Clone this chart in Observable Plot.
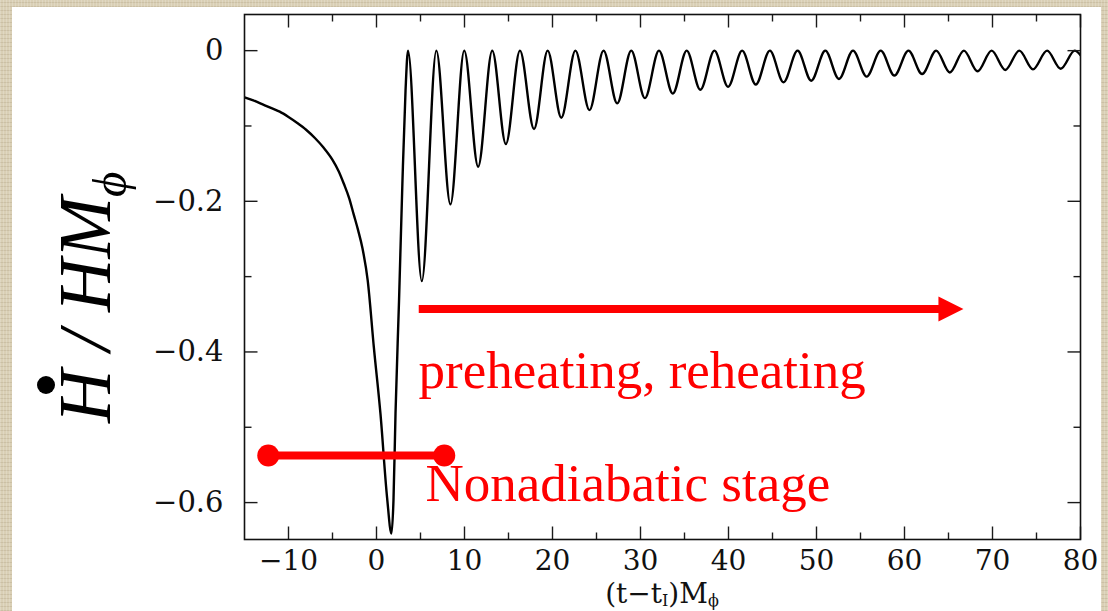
<!DOCTYPE html>
<html><head><meta charset="utf-8">
<script src="https://cdn.jsdelivr.net/npm/d3@7"></script>
<script src="https://cdn.jsdelivr.net/npm/@observablehq/plot@0.6"></script>
<style>
html,body{margin:0;padding:0;width:1108px;height:611px;overflow:hidden;}
body{position:relative;background-color:#d9cfb5;
background-image:repeating-linear-gradient(90deg,rgba(255,255,255,0.18) 0 1px,transparent 1px 3px),
repeating-linear-gradient(0deg,rgba(110,90,50,0.13) 0 1px,transparent 1px 4px);}
#panel{position:absolute;left:12px;top:7px;width:1089px;height:604px;background:#fff;}
#chart{position:absolute;left:0;top:0;}
</style></head><body><div id="panel"></div><div id="chart"></div>
<script>
// ---- data ----
const preT = [-15, -14, -13, -12, -11, -10, -9, -8, -7, -6, -5, -4.3, -3.7, -3.1, -2.6, -2.1, -1.6, -1.0, -0.3, 0.45, 1.2, 1.7, 1.93, 2.16, 2.56, 2.95, 3.3];
const preV = [-0.062, -0.066, -0.071, -0.076, -0.081, -0.088, -0.096, -0.105, -0.116, -0.129, -0.145, -0.160, -0.177, -0.196, -0.217, -0.238, -0.262, -0.305, -0.394, -0.482, -0.593, -0.641, -0.597, -0.482, -0.332, -0.173, -0.053];
const peakT = [3.58, 6.8, 9.97, 13.15, 16.3, 19.45, 22.6, 25.8, 28.95, 32.1, 35.25, 38.4, 41.55, 44.7, 47.85, 51.0, 54.15, 57.3, 60.45, 63.6, 66.75, 69.9, 73.05, 76.2, 79.35];
const peakV = [0, 0, 0, 0, 0, 0, 0, 0, 0, 0, 0, 0, 0, 0, 0, 0, 0, 0, 0, 0, 0, 0, 0, 0, 0];
const troughT = [5.15, 8.4, 11.55, 14.7, 17.9, 21.0, 24.2, 27.35, 30.5, 33.67, 36.8, 39.95, 43.1, 46.25, 49.4, 52.55, 55.7, 58.85, 62.0, 65.15, 68.3, 71.45, 74.6, 77.75];
const troughV = [-0.306, -0.204, -0.154, -0.124, -0.104, -0.089, -0.079, -0.070, -0.063, -0.057, -0.052, -0.048, -0.045, -0.042, -0.040, -0.0376, -0.0345, -0.033, -0.031, -0.029, -0.0274, -0.0256, -0.0248, -0.0240];
const endT = [80];
const endV = [-0.006];

const xMajor = [-10, 0, 10, 20, 30, 40, 50, 60, 70, 80];
const xTickLabels = ["−10", "0", "10", "20", "30", "40", "50", "60", "70", "80"];
const xMinor = [-5, 5, 15, 25, 35, 45, 55, 65, 75];
const yMajor = [0, -0.2, -0.4, -0.6];
const yTickLabels = ["0", "−0.2", "−0.4", "−0.6"];
const yMinor = [-0.1, -0.3, -0.5];

const nonadX = [-12.3, 7.7];
const nonadY = [-0.5375, -0.5375];
const arrowX = [4.8, 65.5];        // shaft
const arrowY = [-0.343, -0.343];
const arrowTip = [{t: 66.7, v: -0.343}];
const labels = [
  {t: 4.77, v: -0.4473, text: "preheating, reheating"},
  {t: 5.57, v: -0.598, text: "Nonadiabatic stage"}
];

// ---- build rows ----
const curve = preT.map((t, i) => ({t, v: preV[i]}));
peakT.forEach((t, i) => {
  curve.push({t, v: peakV[i]});
  if (i < troughT.length) curve.push({t: troughT[i], v: troughV[i]});
});
endT.forEach((t, i) => curve.push({t, v: endV[i]}));

const tickShape = {draw(ctx, l) { ctx.moveTo(0, 0); ctx.lineTo(0, -l); }};
const triShape = {draw(ctx, l) { ctx.moveTo(-12.5, 0); ctx.lineTo(0, -l); ctx.lineTo(12.5, 0); ctx.closePath(); }};
const tk = {shape: tickShape, anchor: "start", stroke: "#1a1a1a", strokeWidth: 1.4, strokeLinecap: "butt"};

const svg = Plot.plot({
  width: 1108, height: 611,
  marginLeft: 244, marginRight: 28, marginTop: 14, marginBottom: 72,
  style: {background: "transparent", fontFamily: "DejaVu Serif", color: "#111"},
  x: {domain: [-15, 80], label: null},
  y: {domain: [-0.649, 0.048], label: null},
  marks: [
    Plot.line(curve, {x: "t", y: "v", curve: "monotone-x", stroke: "#000", strokeWidth: 2.4, clip: "frame"}),
    // ticks (inward, all four sides)
    Plot.vector(xMajor, {...tk, x: d => d, frameAnchor: "bottom", length: 13, rotate: 0}),
    Plot.vector(xMinor, {...tk, x: d => d, frameAnchor: "bottom", length: 7, rotate: 0}),
    Plot.vector(xMajor, {...tk, x: d => d, frameAnchor: "top", length: 13, rotate: 180}),
    Plot.vector(xMinor, {...tk, x: d => d, frameAnchor: "top", length: 7, rotate: 180}),
    Plot.vector(yMajor, {...tk, y: d => d, frameAnchor: "left", length: 13, rotate: 90}),
    Plot.vector(yMinor, {...tk, y: d => d, frameAnchor: "left", length: 7, rotate: 90}),
    Plot.vector(yMajor, {...tk, y: d => d, frameAnchor: "right", length: 13, rotate: 270}),
    Plot.vector(yMinor, {...tk, y: d => d, frameAnchor: "right", length: 7, rotate: 270}),
    Plot.axisX(xMajor, {anchor: "bottom", tickSize: 0, tickPadding: 11, fontSize: 28, label: null,
      tickFormat: d => xTickLabels[xMajor.indexOf(d)]}),
    Plot.axisY(yMajor, {anchor: "left", tickSize: 0, tickPadding: 21, fontSize: 29, label: null,
      tickFormat: d => yTickLabels[yMajor.indexOf(d)]}),
    Plot.frame({stroke: "#111", strokeWidth: 1.6}),
    // red annotations
    Plot.line(nonadX, {x: d => d, y: (d, i) => nonadY[i], stroke: "#ff0000", strokeWidth: 8, strokeLinecap: "butt"}),
    Plot.dot(nonadX, {x: d => d, y: (d, i) => nonadY[i], r: 11, fill: "#ff0000"}),
    Plot.line(arrowX, {x: d => d, y: (d, i) => arrowY[i], stroke: "#ff0000", strokeWidth: 8, strokeLinecap: "butt"}),
    Plot.vector(arrowTip, {x: "t", y: "v", rotate: 90, length: 25, anchor: "end", shape: triShape, fill: "#ff0000", stroke: "none"}),
    Plot.text(labels, {x: "t", y: "v", text: "text", textAnchor: "start", lineAnchor: "bottom",
      fill: "#ff0000", fontSize: 53, fontFamily: "Liberation Serif"})
  ]
});

const s = d3.select(svg);
// y axis label (rotated)
const g = s.append("g").attr("transform", "translate(110,423) rotate(-90)");
const yt = g.append("text").attr("text-anchor", "start").attr("font-family", "Liberation Serif").attr("font-style", "italic")
  .attr("font-size", 74).attr("fill", "#000");
yt.append("tspan").text("H / HM");
yt.append("tspan").attr("font-size", 49).attr("dy", 16).text("ϕ");
g.append("circle").attr("cx", 38).attr("cy", -64).attr("r", 9).attr("fill", "#000");
// x axis label
const xt = s.append("text").attr("x", 662).attr("y", 603).attr("text-anchor", "middle")
  .attr("font-family", "DejaVu Serif").attr("font-size", 28).attr("fill", "#111");
xt.append("tspan").text("(t−t");
xt.append("tspan").attr("font-size", 16).attr("dy", 3).text("I");
xt.append("tspan").attr("dy", -3).text(")M");
xt.append("tspan").attr("font-size", 16).attr("dy", 3).text("ϕ");

document.getElementById("chart").appendChild(svg);
</script>
</body></html>
